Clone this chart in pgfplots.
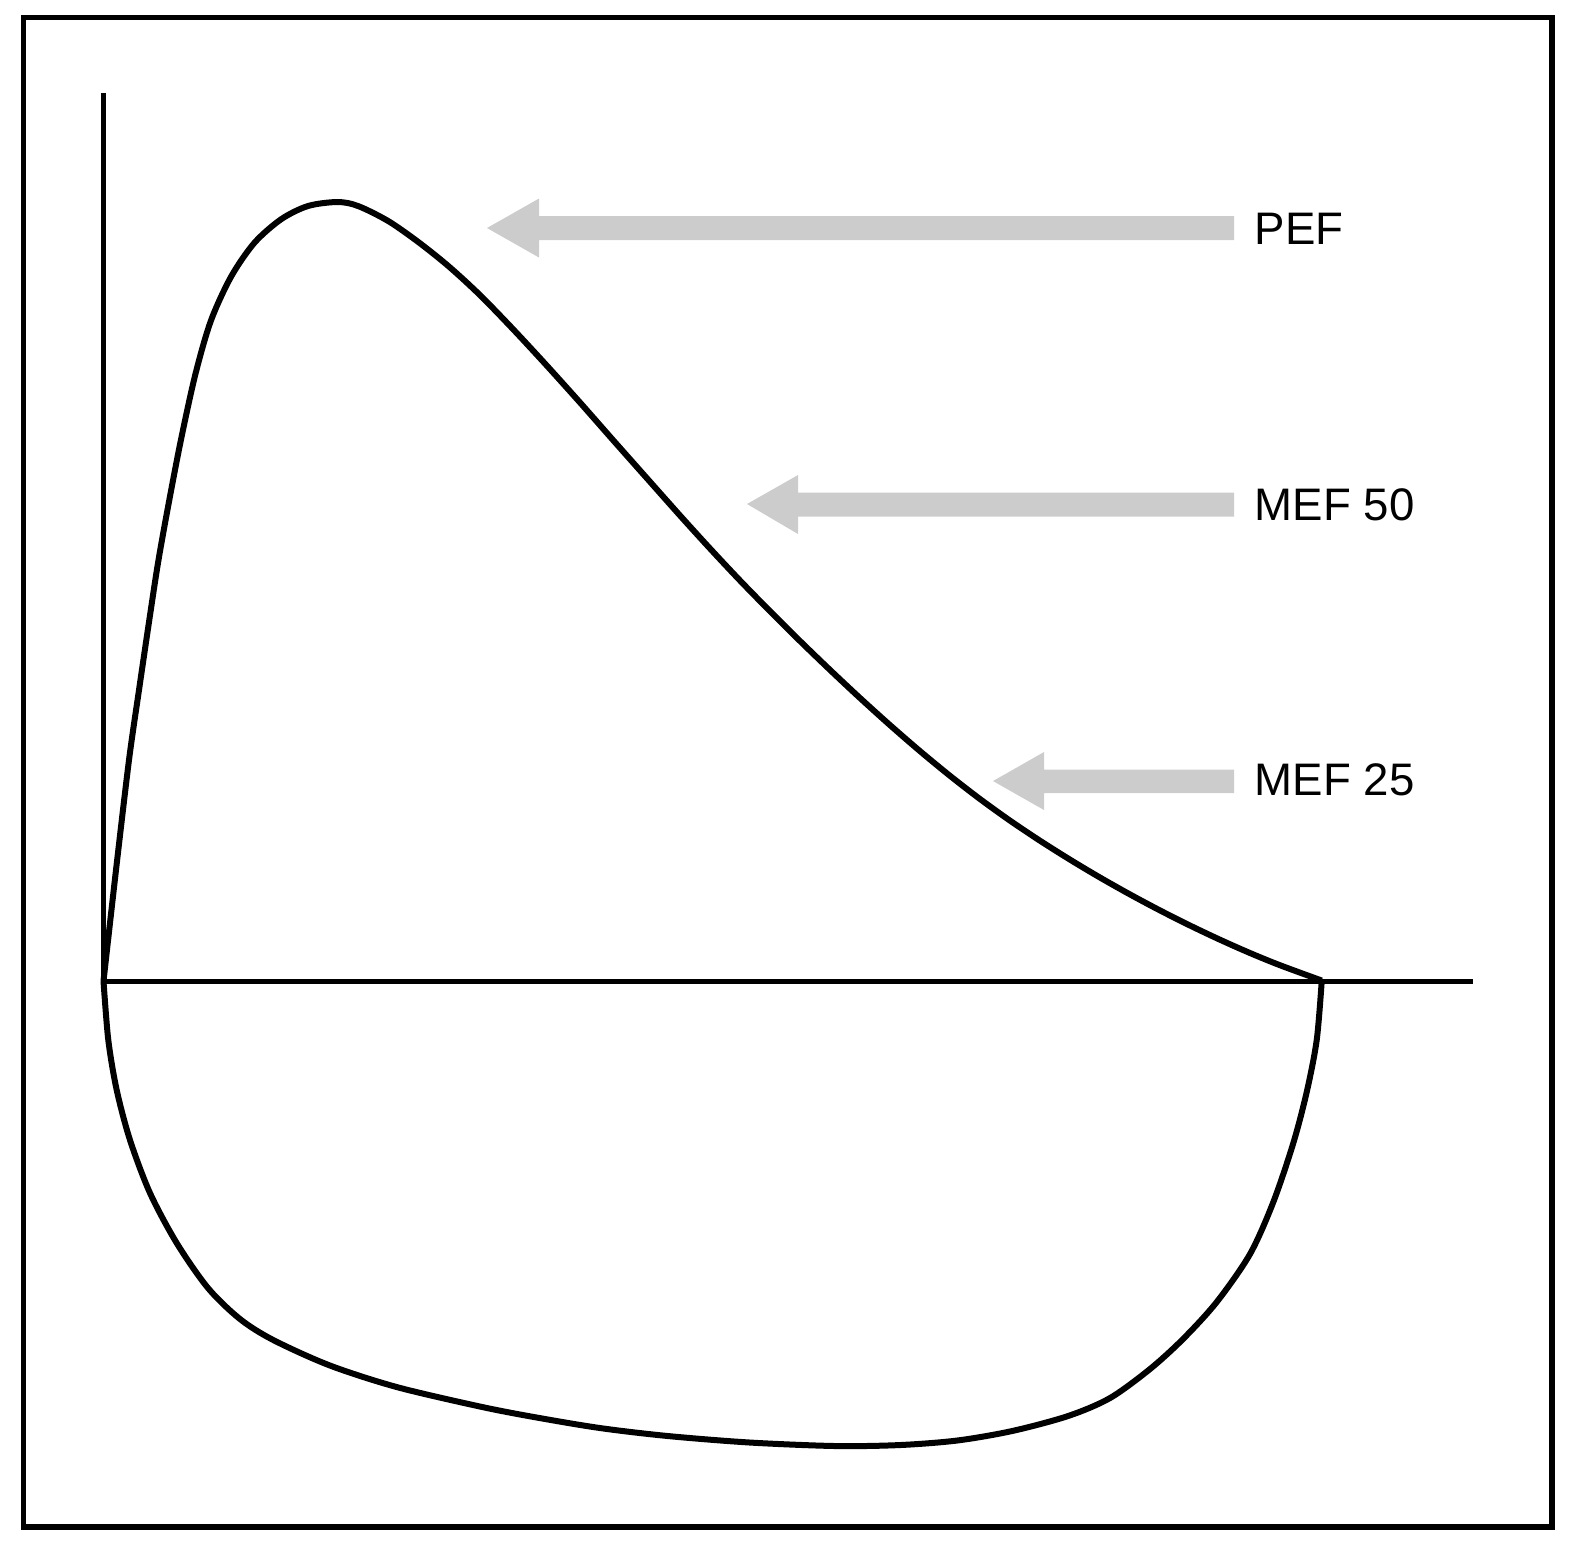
\documentclass[border=0pt]{standalone}
\usepackage{pgfplots}
\pgfplotsset{compat=1.18}
\usepackage{fontspec}
\setmainfont{Liberation Sans}
\definecolor{arrowgray}{HTML}{CCCCCC}
\begin{document}
\begin{tikzpicture}
\begin{axis}[
  scale only axis, width=395pt, height=386.25pt,
  xmin=0, xmax=1580, ymin=0, ymax=1545, y dir=reverse,
  axis lines=none, clip=false,
]
\path (axis cs:0,0) rectangle (axis cs:1580,1545);
% frame
\addplot[black, line width=1.4pt, line join=miter] coordinates {(700,17.5) (1552,17.5) (1552,1527) (23.5,1527) (23.5,17.5) (710,17.5)};
% axes
\addplot[black, line width=1.4pt] coordinates {(103.5,93) (103.5,981.5)};
\addplot[black, line width=1.4pt] coordinates {(103.5,981.5) (1473,981.5)};
% arrows
\addplot[fill=arrowgray, draw=none] coordinates {(487,228) (539,198.5) (539,216) (1234,216) (1234,240) (539,240) (539,257.5) (487,228)};
\addplot[fill=arrowgray, draw=none] coordinates {(747,504) (798,475) (798,492.5) (1234,492.5) (1234,516.5) (798,516.5) (798,534) (747,504)};
\addplot[fill=arrowgray, draw=none] coordinates {(993,781) (1044,752) (1044,769.5) (1234,769.5) (1234,793) (1044,793) (1044,810) (993,781)};
% expiratory curve
\addplot[black, line width=1.5pt, smooth, tension=0.5] coordinates {
(103.5,981) (116,870) (129,760) (139,690) (149,622) (158,563) (168,507) (180.6,441.5) (195.2,375)
(210.8,321) (231,276.8) (254.4,242.8) (281.2,219.2) (308,206) (337.6,202)
(358.3,206.1) (388.5,221.2) (418.7,242.3) (448.9,266.5) (480,295.1) (513,329.1)
(546.7,365.5) (580,402.5) (613,440) (646.7,478) (680,515.5) (710,548.5) (740,580.5)
(770,611.2) (800,641) (830,669.9) (860,698) (890,725.1) (920,751.1) (950,775.8)
(980,799) (1010,820.6) (1040,840.7) (1070,859.6) (1100,877.5) (1130,894.4)
(1160,910.4) (1190,925.5) (1220,939.7) (1250,953) (1280,965.2) (1321.7,980.5)};
% inspiratory curve
\addplot[black, line width=1.5pt, smooth, tension=0.5] coordinates {
(103.5,981) (108.3,1040) (116.7,1090) (130,1140) (150,1193) (176.7,1243) (208,1288)
(240,1319) (273.3,1340) (330,1365.5) (396.7,1387) (480,1406.5) (534,1417) (600,1428)
(668,1436) (750,1442.5) (836,1446) (900,1445) (957,1440.5) (1012,1431) (1068,1416)
(1110,1398) (1150,1369) (1183,1339) (1216.7,1302) (1250,1254) (1273.3,1202) (1293.3,1143)
(1306.7,1092) (1316.7,1040) (1321.7,981)};
% labels
\node[anchor=base west, inner sep=0pt, font=\fontsize{11.4pt}{13pt}\selectfont] at (axis cs:1254,244) {PEF};
\node[anchor=base west, inner sep=0pt, font=\fontsize{11.4pt}{13pt}\selectfont] at (axis cs:1254,520) {MEF 50};
\node[anchor=base west, inner sep=0pt, font=\fontsize{11.4pt}{13pt}\selectfont] at (axis cs:1254,795.5) {MEF 25};
\end{axis}
\end{tikzpicture}
\end{document}
